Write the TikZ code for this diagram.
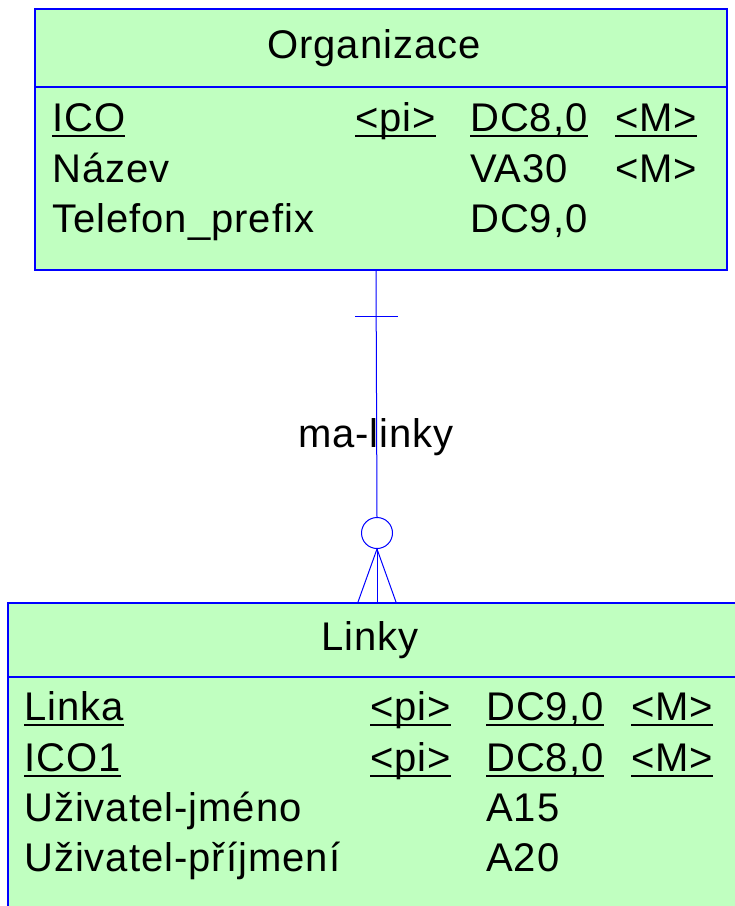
\documentclass[tikz,border=0pt]{standalone}
\usepackage{fontspec}
\setmainfont[LetterSpace=2.5]{Liberation Sans}
\usetikzlibrary{positioning}
\definecolor{entfill}{RGB}{192,255,192}
\definecolor{entline}{RGB}{0,0,255}
\newcommand\keyul[1]{\setbox0\hbox{#1}\rlap{\rule[-6pt]{\wd0}{2.5pt}}\box0}
\tikzset{
  entity/.style={draw=entline,fill=entfill,line width=1.5pt,anchor=north west,inner sep=0pt},
  attr/.style={anchor=base west,inner sep=0pt,font=\fontsize{40}{48}\selectfont},
  title/.style={attr,anchor=base},
  rel/.style={draw=entline,line width=1pt}
}
\begin{document}
\begin{tikzpicture}[x=1pt,y=-1pt]
  \clip (0,0) rectangle (735,906);
  % entita Organizace
  \node (org) [entity,minimum width=692pt,minimum height=261pt] at (34,8) {};
  \draw [entline,line width=1.2pt] (34,87) -- (726,87);
  \node (orgname) [title] at (374,58) {Organizace};
  \node (ico) [attr] at (52,131) {\keyul{ICO}};
  \node (icopi) [attr] at (355,131) {\keyul{<pi>}};
  \node (icotyp) [attr] at (470,131) {\keyul{DC8,0}};
  \node (icom) [attr] at (615,131) {\keyul{<M>}};
  \node (nazev) [attr] at (52,182) {Název};
  \node (nazevtyp) [attr] at (470,182) {VA30};
  \node (nazevm) [attr] at (615,182) {<M>};
  \node (tel) [attr] at (52,232) {Telefon\_prefix};
  \node (teltyp) [attr] at (470,232) {DC9,0};
  % entita Linky
  \node (lin) [entity,minimum width=740pt,minimum height=320pt] at (7,602) {};
  \draw [entline,line width=1.2pt] (7,677) -- (747,677);
  \node (linname) [title] at (370,650) {Linky};
  \node (linka) [attr] at (24,720) {\keyul{Linka}};
  \node (linkapi) [attr] at (370,720) {\keyul{<pi>}};
  \node (linkatyp) [attr] at (486,720) {\keyul{DC9,0}};
  \node (linkam) [attr] at (631,720) {\keyul{<M>}};
  \node (ico1) [attr] at (24,771) {\keyul{ICO1}};
  \node (ico1pi) [attr] at (370,771) {\keyul{<pi>}};
  \node (ico1typ) [attr] at (486,771) {\keyul{DC8,0}};
  \node (ico1m) [attr] at (631,771) {\keyul{<M>}};
  \node (jmeno) [attr] at (24,821) {Uživatel-jméno};
  \node (jmenotyp) [attr] at (486,821) {A15};
  \node (prijmeni) [attr] at (24,871) {Uživatel-příjmení};
  \node (prijmenityp) [attr] at (486,871) {A20};
  % vztah ma-linky
  \node (rel) [title] at (376,447) {ma-linky};
  \node (circ) [circle,rel,minimum size=31pt,inner sep=0pt] at (377,533) {};
  \coordinate (bar) at (376,316);
  \draw [rel] (376,0 |- org.south) -- (circ.north);
  \draw [rel] ([xshift=-21pt]bar) -- ([xshift=22pt]bar);
  \draw [rel] (circ.south) -- (358,0 |- lin.north);
  \draw [rel] (circ.south) -- (377,0 |- lin.north);
  \draw [rel] (circ.south) -- (396,0 |- lin.north);
\end{tikzpicture}
\end{document}
